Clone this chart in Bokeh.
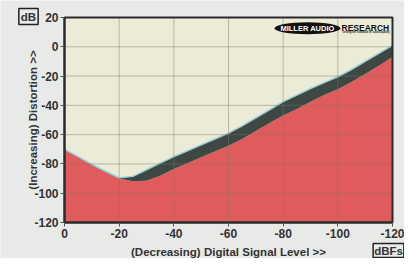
from bokeh.plotting import figure
from bokeh.models import Range1d, FixedTicker, Label
from bokeh.embed import file_html
from bokeh.resources import INLINE

# Signal level (dBFS) and distortion (dB)
level = [0, -5, -10, -15, -20, -25, -30, -35, -40, -45, -50, -55, -60,
         -65, -70, -75, -80, -85, -90, -95, -100, -105, -110, -115, -120]
dist_low = [-70, -75, -80.5, -85.5, -90, -91.8, -91.5, -88, -83.5, -79.5, -75.5, -71.5, -67.5,
            -63, -57.5, -52, -47, -42.5, -37.5, -33, -29, -24, -18.5, -13, -7]
dist_high = [-70, -75, -80.3, -85, -89.5, -88.5, -84, -79.5, -75, -71, -67, -63, -59,
             -54, -48.5, -43, -37.5, -33, -28.5, -24.5, -20.5, -15.5, -10, -4.5, 1]

x_ticks = [0, -20, -40, -60, -80, -100, -120]
x_tick_labels = ["0", "-20", "-40", "-60", "-80", "-100", "-120"]
y_ticks = [20, 0, -20, -40, -60, -80, -100, -120]
y_tick_labels = ["20", "0", "-20", "-40", "-60", "-80", "-100", "-120"]

FONT = "Liberation Sans"
W, H = 404, 258
# plot area in canvas pixels
L, R, T, B = 64, 392, 17, 222
X0, X1 = x_ticks[0], x_ticks[-1]
Y0, Y1 = y_ticks[-1], y_ticks[0]
sx = (R - L) / (X0 - X1)
sy = (B - T) / (Y1 - Y0)

p = figure(width=W, height=H, output_backend="svg", toolbar_location=None,
           x_range=Range1d(X0 + L / sx, X1 - (W - R) / sx),
           y_range=Range1d(Y0 - (H - B) / sy, Y1 + T / sy),
           min_border=0, min_border_left=0, min_border_right=0,
           min_border_top=0, min_border_bottom=0)

p.background_fill_color = "#e8eae8"
p.border_fill_color = "#e8eae8"
p.outline_line_color = None
p.xgrid.visible = False
p.ygrid.visible = False

# plot area background
p.quad(left=[X0], right=[X1], bottom=[Y0], top=[Y1], fill_color="#ecebd8", line_color=None)

# areas
floor = [Y0] * len(level)
p.varea(x=level, y1=floor, y2=dist_low, fill_color="#e05c5c")
p.varea(x=level, y1=dist_low, y2=dist_high, fill_color="#3d4845")
p.line(x=level, y=dist_high, line_color="#9ccfdc", line_width=1.5)

# grid lines from the tick lists
gx = x_ticks[1:-1]
gy = y_ticks[1:-1]
p.segment(x0=gx, y0=[Y0] * len(gx), x1=gx, y1=[Y1] * len(gx),
          line_color="#7d7565", line_alpha=0.45, line_width=1)
p.segment(x0=[X0] * len(gy), y0=gy, x1=[X1] * len(gy), y1=gy,
          line_color="#7d7565", line_alpha=0.45, line_width=1)

# outline
p.quad(left=[X0], right=[X1], bottom=[Y0], top=[Y1], fill_color=None,
       line_color="#2a2a2a", line_width=2)

# axes fixed to the plot area edges
p.xaxis.fixed_location = Y0
p.yaxis.fixed_location = X0
p.xaxis.bounds = (X1, X0)
p.yaxis.bounds = (Y0, Y1)
p.xaxis.ticker = FixedTicker(ticks=x_ticks)
p.yaxis.ticker = FixedTicker(ticks=y_ticks)
p.xaxis.major_label_overrides = {t: s for t, s in zip(x_ticks, x_tick_labels)}
p.yaxis.major_label_overrides = {t: s for t, s in zip(y_ticks, y_tick_labels)}
for ax in (p.xaxis[0], p.yaxis[0]):
    ax.axis_line_color = "#2a2a2a"
    ax.axis_line_width = 2
    ax.major_tick_line_color = "#555555"
    ax.major_tick_in = 0
    ax.major_tick_out = 4
    ax.minor_tick_line_color = None
    ax.major_label_text_font = FONT
    ax.major_label_text_font_style = "bold"
    ax.major_label_text_font_size = "12px"
    ax.major_label_text_color = "#333333"
    ax.major_label_standoff = 2
    ax.axis_label_text_font = FONT
    ax.axis_label_text_font_style = "bold"
    ax.axis_label_text_font_size = "11.5px"
    ax.axis_label_text_color = "#333333"

p.xaxis.axis_label = "(Decreasing) Digital Signal Level >>"
p.yaxis.axis_label = "(Increasing) Distortion >>"
p.xaxis.axis_label_standoff = 5
p.yaxis.axis_label_standoff = -8


def at(px_x, px_y):
    return X0 - (px_x - L) / sx, Y1 - (px_y - T) / sy


# unit boxes
bx, by = at(28, 16)
p.add_layout(Label(x=bx, y=by, text="dB", text_align="center", text_baseline="middle",
                   text_font=FONT, text_font_style="bold", text_font_size="11.5px",
                   text_color="#333333", border_line_color="#222222", border_line_width=1.5,
                   background_fill_color="#e8eae8", padding=2))
bx, by = at(388, 250)
p.add_layout(Label(x=bx, y=by, text="dBFs", text_align="center", text_baseline="middle",
                   text_font=FONT, text_font_style="bold", text_font_size="11.5px",
                   text_color="#333333", border_line_color="#222222", border_line_width=1.5,
                   background_fill_color="#e8eae8", padding=1))

# logo
ex, ey = at(307, 27.7)
p.ellipse(x=[ex], y=[ey], width=66, height=12, width_units="screen", height_units="screen",
          fill_color="#111111", line_color=None)
p.add_layout(Label(x=ex, y=ey, text="MILLER AUDIO", text_align="center", text_baseline="middle",
                   text_font=FONT, text_font_style="bold", text_font_size="7.5px",
                   text_color="white"))
rx, ry = at(341, 27)
p.add_layout(Label(x=rx, y=ry, text="RESEARCH", text_align="left", text_baseline="middle",
                   text_font=FONT, text_font_style="bold", text_font_size="8.5px",
                   text_color="#111111"))
tx, ty = at(342, 32.5)
p.add_layout(Label(x=tx, y=ty, text="setting the standard of sound quality", text_align="left",
                   text_baseline="middle", text_font=FONT, text_font_style="bold",
                   text_font_size="2.7px", text_color="#222222"))

open("out.html", "w").write(file_html(p, INLINE))
